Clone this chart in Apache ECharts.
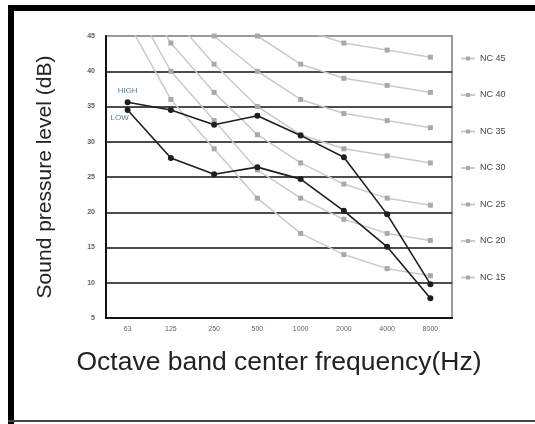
<!DOCTYPE html>
<html>
<head>
<meta charset="utf-8">
<script src="https://cdn.jsdelivr.net/npm/echarts@6/dist/echarts.min.js"></script>
<style>
  html, body { margin: 0; padding: 0; background: #fff; }
  #chart { width: 535px; height: 424px; }
</style>
</head>
<body>
<div id="chart"></div>
<script>
// octave band centres
var frequencies = ['63', '125', '250', '500', '1000', '2000', '4000', '8000'];

// measured levels (dB)
var highLevels = [35.6, 34.5, 32.4, 33.7, 30.9, 27.8, 19.7, 9.8];
var lowLevels = [34.5, 27.7, 25.4, 26.4, 24.7, 20.2, 15.1, 7.8];

// NC reference curves
var nc45 = [67, 60, 54, 49, 46, 44, 43, 42];
var nc40 = [64, 56, 50, 45, 41, 39, 38, 37];
var nc35 = [60, 52, 45, 40, 36, 34, 33, 32];
var nc30 = [57, 48, 41, 35, 31, 29, 28, 27];
var nc25 = [54, 44, 37, 31, 27, 24, 22, 21];
var nc20 = [51, 40, 33, 26, 22, 19, 17, 16];
var nc15 = [47, 36, 29, 22, 17, 14, 12, 11];

var ncNames = ['NC 45', 'NC 40', 'NC 35', 'NC 30', 'NC 25', 'NC 20', 'NC 15'];
var ncData = [nc45, nc40, nc35, nc30, nc25, nc20, nc15];

var labelColor = '#5b7ba0';

function ncSeries(name, values) {
    return {
        name: name,
        type: 'line',
        data: values,
        symbol: 'rect',
        symbolSize: 5,
        lineStyle: { color: '#cacaca', width: 1.5 },
        itemStyle: { color: '#a9a9a9' },
        z: 2
    };
}

function measured(name, values, label) {
    var data = values.map(function (v, i) {
        if (i === 0) {
            return { value: v, label: label };
        }
        return v;
    });
    return {
        name: name,
        type: 'line',
        data: data,
        symbol: 'circle',
        symbolSize: 6,
        lineStyle: { color: '#1e1e1e', width: 1.6 },
        itemStyle: { color: '#1e1e1e' },
        z: 5
    };
}

var series = [];
for (var i = 0; i < ncNames.length; i++) {
    series.push(ncSeries(ncNames[i], ncData[i]));
}
series.push(measured('HIGH', highLevels, {
    show: true, position: 'top', formatter: 'HIGH', distance: 4,
    color: labelColor, fontSize: 8, fontFamily: 'Liberation Sans'
}));
series.push(measured('LOW', lowLevels, {
    show: true, position: 'bottom', formatter: 'LOW', offset: [-8, -4],
    color: labelColor, fontSize: 8, fontFamily: 'Liberation Sans'
}));

var chart = echarts.init(document.getElementById('chart'));

chart.setOption({
    animation: false,
    backgroundColor: '#fff',
    textStyle: { fontFamily: 'Liberation Sans' },
    grid: {
        left: 106, right: 83, top: 36, bottom: 106,
        show: true, borderColor: '#9a9a9a', borderWidth: 2
    },
    legend: {
        data: ncNames,
        orient: 'vertical',
        left: 460,
        top: 54,
        padding: 0,
        itemWidth: 14,
        itemHeight: 5,
        itemGap: 27.5,
        textStyle: { fontSize: 9, color: '#444' }
    },
    xAxis: {
        type: 'category',
        data: frequencies,
        boundaryGap: true,
        name: 'Octave band center frequency(Hz)',
        nameLocation: 'middle',
        nameGap: 31,
        nameTextStyle: { fontSize: 26.5, color: '#222' },
        axisLine: { lineStyle: { color: '#111', width: 2 } },
        axisTick: { inside: true, length: 3, lineStyle: { color: '#111' } },
        axisLabel: { fontSize: 7, color: '#5a6478', margin: 8 },
        splitLine: { show: false }
    },
    yAxis: {
        type: 'value',
        min: 5,
        max: 45,
        interval: 5,
        name: 'Sound pressure level (dB)',
        nameLocation: 'middle',
        nameGap: 50,
        nameRotate: 90,
        nameTextStyle: { fontSize: 21, color: '#222' },
        axisLine: { show: true, lineStyle: { color: '#111', width: 2 } },
        axisTick: { show: false },
        axisLabel: { fontSize: 7, fontWeight: 'bold', color: '#5a6478', margin: 11 },
        splitLine: { show: true, showMaxLine: false, showMinLine: false,
            lineStyle: { color: '#111', width: 1.5 } }
    },
    graphic: [
        { type: 'rect', shape: { x: 8, y: 5, width: 527, height: 6 }, style: { fill: '#000' } },
        { type: 'rect', shape: { x: 8, y: 5, width: 6, height: 419 }, style: { fill: '#000' } },
        { type: 'rect', shape: { x: 8, y: 420, width: 527, height: 2 }, style: { fill: '#444' } }
    ],
    series: series
});
</script>
</body>
</html>
